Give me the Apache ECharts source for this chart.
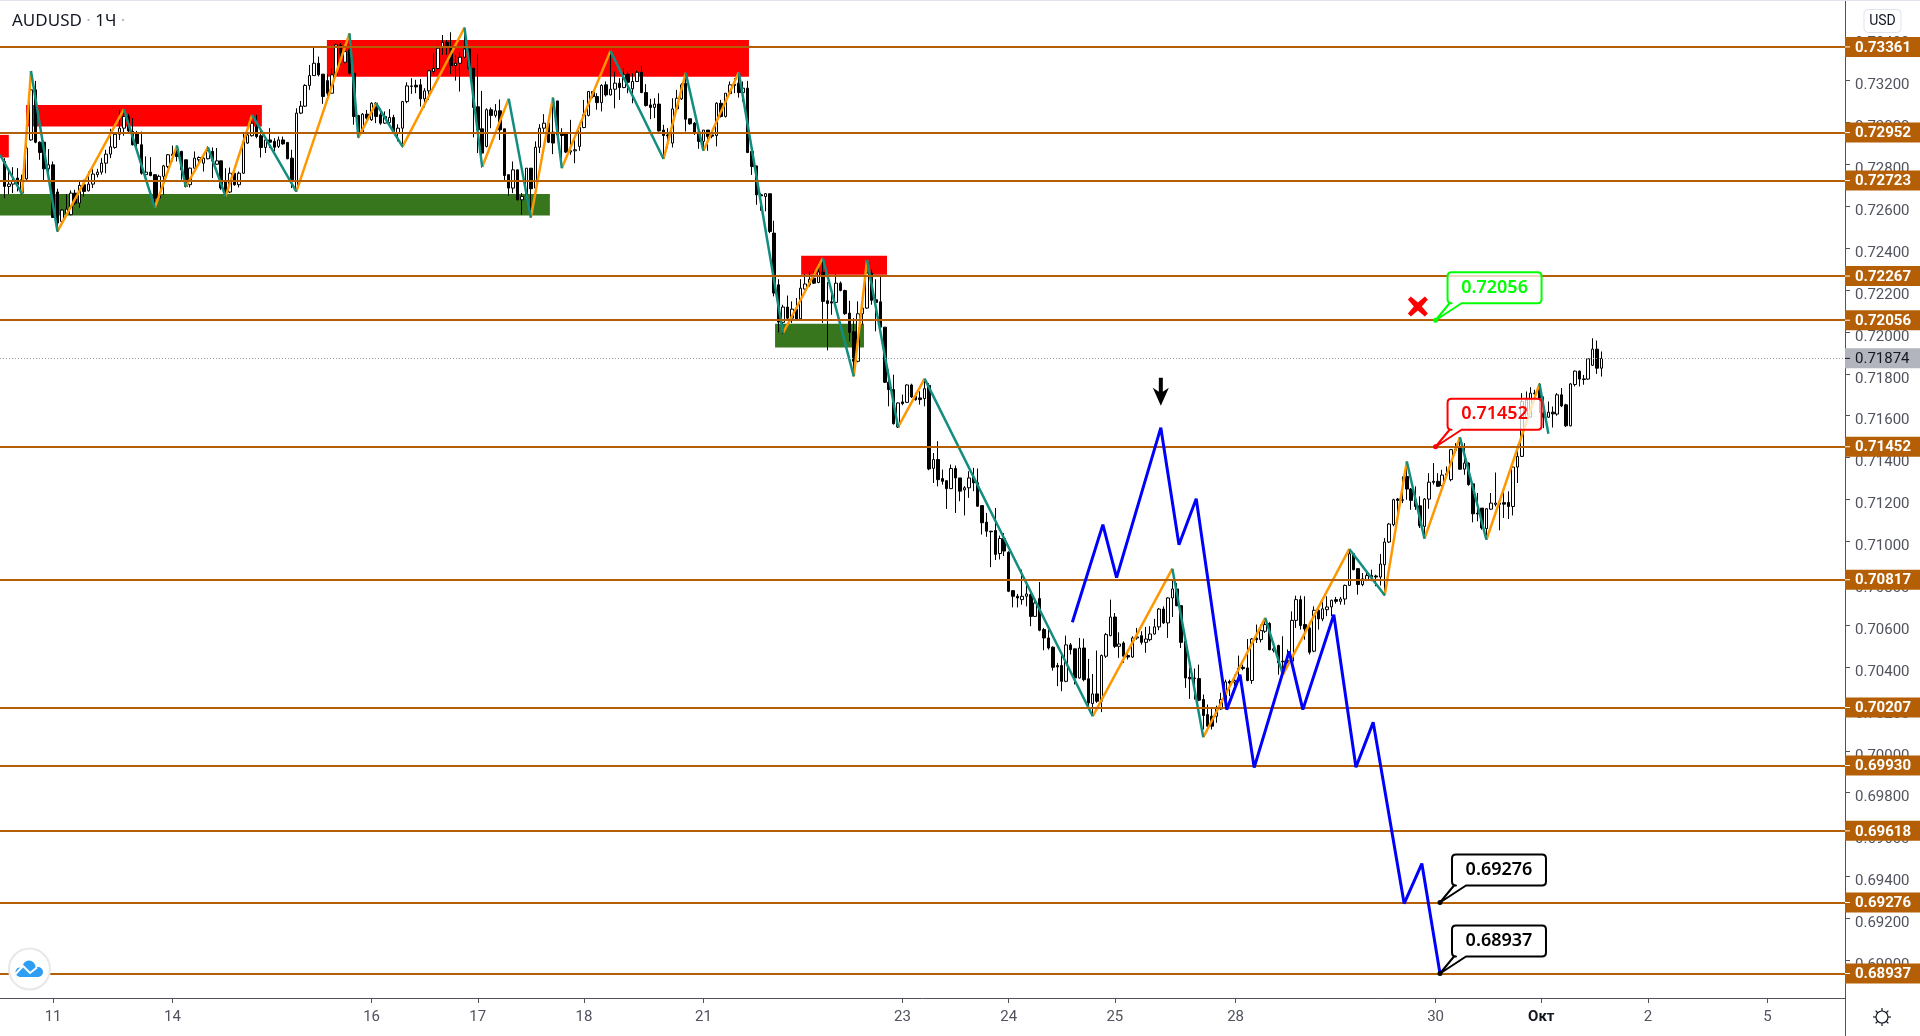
<!DOCTYPE html>
<html>
<head>
<meta charset="utf-8">
<title>AUDUSD 1H</title>
<script src="https://cdn.jsdelivr.net/npm/echarts@6/dist/echarts.min.js"></script>
<style>
  html, body { margin: 0; padding: 0; background: #fff; }
  #chart { width: 1920px; height: 1036px; }
</style>
</head>
<body>
<div id="chart"></div>
<script>
// hourly bars, each row is open, close, low, high
const barsSep10 = [
[.72814,.72695,.72639,.72830],[.72695,.72706,.72658,.72782],[.72706,.72719,.72663,.72787],[.72735,.72703,.72671,.72782],
[.72663,.72727,.72655,.72751],[.72731,.72878,.72726,.72925],[.72917,.73156,.72913,.73246],[.73156,.72906,.72901,.73199],
[.72906,.72857,.72822,.72910],[.72906,.72779,.72719,.72914],[.72779,.72798,.72719,.72873],[.72798,.72547,.72544,.72814],
[.72668,.72520,.72477,.72684],[.72528,.72582,.72512,.72587],[.72560,.72587,.72557,.72658],[.72560,.72663,.72557,.72676],
[.72663,.72615,.72607,.72679],[.72615,.72700,.72592,.72722],[.72703,.72671,.72647,.72727],[.72674,.72706,.72671,.72766],
[.72706,.72754,.72687,.72782],[.72751,.72763,.72738,.72779],[.72763,.72806,.72751,.72830],[.72806,.72849,.72758,.72870],
[.72849,.72884,.72830,.72970],[.72881,.72944,.72875,.72954],[.72944,.72973,.72917,.73060],[.72973,.73029,.72937,.73064],
[.73029,.72960,.72949,.73040],[.72957,.72894,.72890,.73021],[.72950,.72900,.72878,.72960],[.72894,.72758,.72751,.72957],
[.72751,.72763,.72735,.72838],[.72763,.72747,.72743,.72835],[.72751,.72639,.72592,.72751],[.72639,.72743,.72631,.72751],
[.72743,.72793,.72655,.72798],[.72790,.72846,.72782,.72849],[.72843,.72849,.72814,.72890],[.72862,.72838,.72814,.72890],
[.72862,.72774,.72727,.72865],[.72822,.72695,.72690,.72822],[.72703,.72782,.72690,.72785],[.72782,.72830,.72779,.72862],
[.72822,.72833,.72798,.72838],[.72806,.72830,.72766,.72846],[.72827,.72865,.72824,.72886],[.72862,.72817,.72735,.72881],
[.72801,.72817,.72798,.72878],[.72817,.72687,.72679,.72817],[.72722,.72663,.72644,.72782],[.72668,.72758,.72663,.72785],
[.72758,.72703,.72698,.72758],[.72703,.72758,.72690,.72766],[.72758,.72910,.72755,.72954],[.72902,.72941,.72898,.72989],
[.72937,.72997,.72933,.73037],[.72981,.72933,.72925,.73037],[.72937,.72881,.72833,.72973],[.72881,.72917,.72854,.72933],
[.72917,.72906,.72878,.72973],[.72910,.72882,.72862,.72925],[.72886,.72917,.72878,.72933],[.72917,.72898,.72894,.72933],
[.72905,.72827,.72825,.72906],[.72830,.72727,.72687,.72870],[.72687,.73045,.72668,.73068],[.73045,.73078,.73040,.73103],
[.73078,.73177,.73075,.73183],[.73177,.73224,.73156,.73275],[.73224,.73283,.73223,.73358],[.73283,.73228,.73220,.73315],
[.73231,.73124,.73089,.73231],[.73200,.73140,.73120,.73230],[.73140,.73228,.73140,.73259],[.73228,.73371,.73220,.73379],
[.73371,.73331,.73275,.73379],[.73288,.73339,.73283,.73347],[.73347,.73235,.73228,.73426],[.73235,.73029,.72989,.73235],
[.73033,.72949,.72925,.73037],[.72949,.73040,.72946,.73045],[.73040,.73021,.73005,.73060],[.73013,.73092,.73008,.73097],
[.73092,.73029,.72997,.73097]
]
const barsSep16 = [
[.73037,.72997,.72989,.73068],[.72997,.73029,.72994,.73053],[.73000,.73024,.72992,.73064],[.73024,.72957,.72954,.73037],
[.72952,.72973,.72910,.72992],[.72973,.73100,.72881,.73103],[.73100,.73175,.73092,.73192],[.73172,.73175,.73137,.73212],
[.73178,.73170,.73140,.73204],[.73180,.73113,.73076,.73208],[.73113,.73151,.73072,.73164],[.73151,.73247,.73108,.73251],
[.73243,.73258,.73232,.73331],[.73258,.73355,.73251,.73367],[.73358,.73383,.73323,.73418],[.73383,.73363,.73323,.73394],
[.73363,.73272,.73232,.73431],[.73272,.73283,.73200,.73323],[.73283,.73312,.73148,.73334],[.73312,.73351,.73307,.73453],
[.73351,.73259,.73251,.73355],[.73259,.73072,.72929,.73259],[.73075,.72965,.72854,.73328],[.72970,.72854,.72785,.73151],
[.72886,.73061,.72881,.73068],[.73061,.73034,.72973,.73072],[.73034,.73056,.73024,.73088],[.73056,.72965,.72917,.73110],
[.72970,.72747,.72719,.72970],[.72751,.72687,.72650,.72751],[.72687,.72774,.72663,.72814],[.72774,.72631,.72628,.72774],
[.72631,.72647,.72560,.72663],[.72652,.72782,.72647,.72782],[.72782,.72684,.72547,.72782],[.72687,.72882,.72684,.72910],
[.72882,.72973,.72854,.72992],[.72973,.72997,.72954,.73040],[.72997,.72906,.72902,.72997],[.72954,.72902,.72849,.73119],
[.73103,.72941,.72933,.73103],[.72946,.72938,.72782,.72973],[.72946,.72859,.72854,.72946],[.72859,.72865,.72846,.73013],
[.72865,.72870,.72806,.72925],[.72886,.72976,.72865,.72981],[.72976,.73037,.72973,.73108],[.73034,.73148,.73029,.73151],
[.73148,.73124,.73116,.73148],[.73124,.73095,.73061,.73140],[.73095,.73177,.73053,.73183],[.73180,.73132,.73124,.73196],
[.73132,.73159,.73129,.73342],[.73159,.73188,.73068,.73243],[.73188,.73167,.73108,.73212],[.73167,.73228,.73164,.73259],
[.73231,.73192,.73140,.73243],[.73161,.73196,.73092,.73235],[.73196,.73240,.73193,.73247],[.73240,.73143,.73140,.73270],
[.73143,.73081,.73076,.73183],[.73084,.73072,.73016,.73113],[.73072,.73088,.73021,.73116],[.73088,.72960,.72957,.73140],
[.72964,.72938,.72827,.72989],[.72941,.72936,.72878,.72973],[.72902,.73065,.72881,.73116],[.73065,.73116,.73059,.73156],
[.73113,.73180,.73108,.73188],[.73188,.73016,.72957,.73235],[.73018,.72994,.72989,.73018],[.72997,.72949,.72941,.73002],
[.72954,.72910,.72875,.72954],[.72910,.72964,.72865,.72964],[.72964,.72933,.72865,.72964],[.72941,.72935,.72925,.72960],
[.72938,.73092,.72886,.73097],[.73092,.73029,.73024,.73108],[.73029,.73140,.73024,.73140],[.73138,.73180,.73132,.73196],
[.73183,.73177,.73140,.73212],[.73188,.73143,.73119,.73235],[.73143,.73164,.73100,.73196],[.73164,.72857,.72854,.73199],
[.72862,.72790,.72750,.72862],[.72793,.72655,.72607,.72793],[.72655,.72650,.72579,.72663],[.72647,.72660,.72576,.72663],
[.72660,.72480,.72472,.72660],[.72472,.72186,.72170,.72531]
]
const barsSep22 = [
[.72225,.72047,.71998,.72252],[.72046,.72119,.71990,.72130],[.72119,.72066,.72058,.72174],[.72066,.72109,.72043,.72146],
[.72109,.72058,.72055,.72162],[.72063,.72209,.72058,.72252],[.72205,.72229,.72202,.72276],[.72225,.72252,.72217,.72289],
[.72257,.72233,.72229,.72289],[.72236,.72287,.72233,.72305],[.72286,.72146,.72043,.72353],[.72149,.72136,.71912,.72238],
[.72144,.72138,.72082,.72194],[.72141,.72233,.72138,.72276],[.72233,.72198,.72194,.72241],[.72198,.72087,.72082,.72202],
[.72090,.71998,.71955,.72149],[.72001,.71860,.71788,.72066],[.71860,.72087,.71855,.72146],[.72087,.72114,.72035,.72138],
[.72114,.72281,.72111,.72345],[.72281,.72151,.72130,.72297],[.72154,.72141,.72003,.72252],[.72144,.72023,.72019,.72268],
[.72023,.71760,.71756,.72023],[.71760,.71725,.71645,.71820],[.71725,.71562,.71558,.71796],[.71546,.71661,.71542,.71664],
[.71666,.71658,.71650,.71701],[.71664,.71747,.71661,.71750],[.71747,.71690,.71685,.71753],[.71693,.71677,.71672,.71709],
[.71685,.71677,.71653,.71717],[.71682,.71729,.71645,.71772],[.71745,.71346,.71340,.71756],[.71349,.71391,.71279,.71422],
[.71391,.71295,.71263,.71478],[.71300,.71287,.71271,.71343],[.71290,.71252,.71155,.71290],[.71252,.71348,.71250,.71367],
[.71348,.71303,.71136,.71362],[.71303,.71240,.71192,.71303],[.71246,.71256,.71124,.71264],[.71256,.71303,.71208,.71335],
[.71306,.71280,.71240,.71351],[.71280,.71168,.71165,.71348],[.71171,.71089,.71033,.71171],[.71092,.71049,.71022,.71136],
[.71049,.71046,.70877,.71049],[.71052,.70938,.70911,.71160],[.70942,.71014,.70914,.71028],[.71014,.70954,.70930,.71040]
]
const barsSep24 = [
[.70948,.70762,.70758,.70953],[.70765,.70738,.70685,.70767],[.70738,.70730,.70685,.70749],[.70722,.70738,.70698,.70865],
[.70738,.70749,.70690,.70809],[.70746,.70642,.70595,.70770],[.70642,.70706,.70639,.70722],[.70727,.70576,.70571,.70806],
[.70579,.70539,.70480,.70587],[.70539,.70491,.70483,.70579],[.70495,.70399,.70383,.70499],[.70407,.70401,.70309,.70420],
[.70407,.70332,.70285,.70460],[.70332,.70506,.70328,.70550],[.70506,.70483,.70460,.70515],[.70487,.70348,.70317,.70488],
[.70348,.70491,.70345,.70539],[.70491,.70340,.70332,.70536],[.70344,.70229,.70213,.70439],[.70226,.70272,.70169,.70367],
[.70272,.70237,.70229,.70479],[.70237,.70455,.70185,.70460],[.70452,.70555,.70444,.70563],[.70550,.70639,.70547,.70722],
[.70639,.70499,.70491,.70658],[.70499,.70510,.70444,.70566],[.70515,.70452,.70420,.70523],[.70455,.70448,.70436,.70483],
[.70448,.70539,.70444,.70547],[.70539,.70544,.70531,.70587],[.70550,.70518,.70507,.70571],[.70518,.70534,.70468,.70592],
[.70531,.70558,.70523,.70595],[.70558,.70592,.70555,.70630],[.70592,.70677,.70576,.70682],[.70677,.70611,.70606,.70690],
[.70611,.70730,.70539,.70733],[.70730,.70773,.70639,.70817],[.70773,.70693,.70690,.70801],[.70693,.70518,.70491,.70693],
[.70523,.70348,.70301,.70523],[.70351,.70344,.70248,.70396],[.70345,.70348,.70245,.70393],[.70345,.70242,.70237,.70412],
[.70245,.70169,.70102,.70269],[.70173,.70118,.70094,.70221],[.70165,.70118,.70102,.70205],[.70165,.70202,.70134,.70216],
[.70200,.70245,.70197,.70277],[.70242,.70329,.70237,.70340],[.70331,.70324,.70261,.70340],[.70328,.70336,.70293,.70364],
[.70395,.70390,.70332,.70455],[.70399,.70393,.70385,.70412],[.70396,.70336,.70332,.70534],[.70336,.70534,.70320,.70539],
[.70538,.70531,.70515,.70603],[.70531,.70574,.70518,.70603],[.70571,.70603,.70563,.70635],[.70608,.70483,.70480,.70614],
[.70480,.70487,.70470,.70510],[.70503,.70420,.70364,.70507],[.70428,.70425,.70364,.70547],[.70431,.70425,.70417,.70484],
[.70428,.70623,.70425,.70666],[.70623,.70722,.70587,.70741]
]
const barsSep29 = [
[.70722,.70598,.70579,.70741],[.70603,.70582,.70531,.70738],[.70587,.70471,.70460,.70603],[.70476,.70671,.70471,.70690],
[.70671,.70630,.70579,.70690],[.70630,.70678,.70619,.70714],[.70674,.70687,.70643,.70738],[.70687,.70719,.70643,.70722],
[.70722,.70714,.70703,.70735],[.70714,.70725,.70698,.70735],[.70725,.70790,.70698,.70794],[.70790,.70941,.70789,.70960],
[.70941,.70865,.70862,.70945],[.70870,.70794,.70746,.70873],[.70794,.70821,.70786,.70849],[.70817,.70837,.70810,.70853],
[.70837,.70830,.70810,.70865],[.70835,.70830,.70786,.70841],[.70830,.70892,.70789,.70940],[.70889,.70997,.70741,.71016],
[.70997,.71083,.70992,.71088],[.71080,.71199,.71072,.71204],[.71202,.71196,.71096,.71207],[.71196,.71199,.71183,.71310],
[.71310,.71250,.71199,.71382],[.71250,.71196,.71151,.71255],[.71199,.71167,.71151,.71263],[.71170,.71075,.71064,.71215],
[.71072,.71202,.71016,.71207],[.71202,.71283,.71156,.71326],[.71287,.71282,.71271,.71374],[.71287,.71263,.71260,.71326],
[.71266,.71317,.71263,.71342],[.71317,.71323,.71310,.71358],[.71295,.71438,.71287,.71441],[.71434,.71441,.71422,.71469],
[.71450,.71345,.71342,.71498],[.71345,.71374,.71318,.71469],[.71374,.71271,.71266,.71377],[.71275,.71132,.71091,.71275],
[.71135,.71131,.71096,.71231],[.71159,.71064,.71056,.71159],[.71061,.71156,.71011,.71159],[.71154,.71183,.71151,.71231],
[.71177,.71183,.71167,.71329],[.71183,.71177,.71053,.71188],[.71185,.71178,.71112,.71250],[.71186,.71167,.71107,.71239],
[.71167,.71355,.71124,.71358],[.71355,.71406,.71279,.71461],[.71406,.71668,.71403,.71708],[.71592,.71676,.71589,.71716],
[.71593,.71708,.71589,.71736],[.71705,.71708,.71700,.71724],[.71748,.71684,.71613,.71756],[.71613,.71593,.71541,.71692],
[.71593,.71617,.71589,.71668],[.71617,.71609,.71544,.71644],[.71608,.71700,.71600,.71708],[.71700,.71647,.71641,.71732],
[.71652,.71552,.71546,.71657],[.71552,.71752,.71549,.71756],[.71749,.71813,.71740,.71816],[.71813,.71775,.71740,.71816],
[.71776,.71773,.71748,.71795],[.71775,.71872,.71772,.71875],[.71841,.71918,.71838,.71970],[.71918,.71827,.71800,.71959],
[.71827,.71874,.71787,.71907]
]

// zigzag turning points, bar number and price
const zigzagBars = [-1,4,6,12,27,34,39,41,46,50,56,66,78,80,84,90,104,108,114,119,124,126,137,149,154,158,166,176,185,192,195,202,208,246,264,271,285,289,304,312,317,321,329,335,347,349]
const zigzagPrices = [.72846,.72658,.73246,.72480,.73064,.72594,.72890,.72694,.72882,.72647,.73036,.72670,.73426,.72928,.73092,.72885,.73453,.72788,.73114,.72546,.73119,.72782,.73342,.72826,.73237,.72865,.73240,.71995,.72353,.71788,.72344,.71546,.71777,.70165,.70870,.70065,.70635,.70364,.70964,.70743,.71382,.71013,.71498,.71008,.71753,.71514]

// blue forecast path
const forecastBars = [241.4,248.3,251.4,261.4,265.5,269.4,276.3,279.3,282.5,290.4,293.5,300.5,305.5,309.4,316.4,320.4,324.5]
const forecastPrices = [.70614,.71080,.70827,.71543,.70984,.71204,.70197,.70364,.69920,.70475,.70197,.70650,.69922,.70136,.69271,.69462,.68937]

// support and resistance levels, last price
const levels = [0.73361,0.72952,0.72723,0.72267,0.72056,0.71452,0.70817,0.70207,0.69930,0.69618,0.69276,0.68937]
const lastPrice = 0.71874

// zones: first bar, last bar, top, bottom
const redZones = [[-1,1,.72941,.72833],[4.9,58.2,.73084,.72981],[72.9,168.3,.73394,.73219],[180.1,199.5,.72364,.72273]]
const greenZones = [[-1,123.3,.72659,.72556],[174.2,194.3,.72039,.71926]]

// callouts: bar, price, text colour
const calloutBars = [323.5,323.5,324.5,324.5]
const calloutPrices = [0.72056,0.71452,0.69276,0.68937]
const calloutColors = ['#00ff00','#ff0000','#000000','#000000']

const crossMark = [319.5,.72122]
const arrowMark = [261.4,.71715]

// axes
const X_MAX = 416.05
const priceTicks = [.690,.692,.694,.696,.698,.700,.702,.704,.706,.708,.710,.712,.714,.716,.718,.720,.722,.724,.726,.728,.730,.732,.734]
const timeTickBars = [11,38,83,107,131,158,203,227,251,278.3,323.5,347.4,371.5,398.5]
const timeTickLabels = ['11','14','16','17','18','21','23','24','25','28','30','Окт','2','5']

const FONT = '"Noto Sans", sans-serif'
const AXIS_FONT = 'Roboto, sans-serif'
const LEVEL_COLOR = '#b45f06'

let allBars = [].concat(barsSep10, barsSep16, barsSep22, barsSep24, barsSep29)
let candleData = allBars.map((b, i) => [i, b[0], b[1], b[2], b[3]])

// rising legs are orange, falling legs teal
let upLegs = []
let downLegs = []
for (let i = 1; i < zigzagBars.length; i++) {
  let leg = [[zigzagBars[i - 1], zigzagPrices[i - 1]], [zigzagBars[i], zigzagPrices[i]]]
  let target = zigzagPrices[i] > zigzagPrices[i - 1] ? upLegs : downLegs
  if (target.length) target.push([null, null])
  target.push(leg[0], leg[1])
}

function zoneArea(list, color) {
  return {
    silent: true,
    itemStyle: { color: color },
    data: list.map(z => [{ coord: [z[0], z[2]] }, { coord: [z[1], z[3]] }])
  }
}

function renderCallout(params, api) {
  let pt = api.coord([api.value(0), api.value(1)])
  let color = calloutColors[params.dataIndex]
  let L = 12, R = 106, T = -48, B = -17, r = 4
  let d = 'M0 0L14 ' + B + 'L' + (L + r) + ' ' + B + 'Q' + L + ' ' + B + ' ' + L + ' ' + (B - r) +
    'L' + L + ' ' + (T + r) + 'Q' + L + ' ' + T + ' ' + (L + r) + ' ' + T +
    'L' + (R - r) + ' ' + T + 'Q' + R + ' ' + T + ' ' + R + ' ' + (T + r) +
    'L' + R + ' ' + (B - r) + 'Q' + R + ' ' + B + ' ' + (R - r) + ' ' + B + 'L26 ' + B + 'Z'
  return {
    type: 'group', x: pt[0], y: pt[1],
    children: [
      { type: 'path', shape: { pathData: d, x: 0, y: T, width: R, height: -T, layout: 'cover' },
        style: { fill: 'rgba(255,255,255,0.75)', stroke: color, lineWidth: 2, lineJoin: 'round' } },
      { type: 'circle', shape: { cx: 0, cy: 0, r: 2.5 }, style: { fill: color } },
      { type: 'text', style: { x: (L + R) / 2, y: (T + B) / 2, text: calloutPrices[params.dataIndex].toFixed(5),
        fill: color, font: '600 18px ' + FONT, textAlign: 'center', textVerticalAlign: 'middle' } }
    ]
  }
}

// price tags sitting on the axis, the last price one is grey
function renderTag(params, api) {
  let price = api.value(0)
  let pt = api.coord([X_MAX, price])
  let isLast = price === lastPrice
  let textColor = isLast ? '#131722' : '#ffffff'
  return {
    type: 'group', x: pt[0], y: pt[1],
    children: [
      { type: 'rect', shape: { x: 0, y: -10, width: 75, height: 20 }, style: { fill: isLast ? '#b2b5be' : LEVEL_COLOR } },
      { type: 'rect', shape: { x: 0, y: -0.5, width: 5, height: 1 }, style: { fill: textColor } },
      { type: 'text', style: { x: 10, y: 1, text: price.toFixed(5), fill: textColor,
        font: (isLast ? '' : 'bold ') + '15px ' + AXIS_FONT, textAlign: 'left', textVerticalAlign: 'middle' } }
    ]
  }
}

// gear rays around the settings icon
let gearRays = []
for (let a = 0; a < 8; a++) {
  let c = Math.cos(a * Math.PI / 4), s = Math.sin(a * Math.PI / 4)
  gearRays.push({ type: 'line', z: 100,
    shape: { x1: 1882 + 6 * c, y1: 1017 + 6 * s, x2: 1882 + 9 * c, y2: 1017 + 9 * s },
    style: { stroke: '#131722', lineWidth: 1.2 } })
}

let chart = echarts.init(document.getElementById('chart'), null, { renderer: 'canvas' })

let option = {
  animation: false,
  backgroundColor: '#ffffff',
  title: {
    left: 7, top: 8,
    text: '{s|AUDUSD}{d| · }{s|1Ч}{d| ·}',
    textStyle: { fontWeight: 'normal', rich: {
      s: { fontFamily: FONT, fontSize: 17, fontWeight: 'normal', color: '#131722' },
      d: { fontFamily: FONT, fontSize: 17, fontWeight: 'normal', color: '#b2b5be' }
    } }
  },
  grid: { left: 0, top: 0, right: 75, bottom: 38 },
  xAxis: {
    type: 'value', min: -0.995, max: X_MAX,
    splitLine: { show: false },
    axisLine: { onZero: false, lineStyle: { color: '#50535e', width: 1 } },
    axisTick: { length: 5, customValues: timeTickBars, lineStyle: { color: '#50535e' } },
    axisLabel: {
      customValues: timeTickBars, margin: 12, fontFamily: AXIS_FONT, fontSize: 15, color: '#50535e',
      formatter: function (v) {
        let t = timeTickLabels[timeTickBars.indexOf(v)]
        return t === 'Окт' ? '{m|' + t + '}' : t
      },
      rich: { m: { fontFamily: AXIS_FONT, fontSize: 15, fontWeight: 'bold', color: '#131722' } }
    }
  },
  yAxis: {
    type: 'value', position: 'right', min: 0.68820, max: 0.73585, scale: true,
    splitLine: { show: false },
    axisLine: { show: true, onZero: false, lineStyle: { color: '#50535e', width: 1 } },
    axisTick: { show: true, length: 5, customValues: priceTicks, lineStyle: { color: '#50535e' } },
    axisLabel: {
      customValues: priceTicks, margin: 10, fontFamily: AXIS_FONT, fontSize: 15, color: '#50535e',
      verticalAlign: 'top', lineHeight: 10,
      formatter: v => v.toFixed(5)
    }
  },
  series: [
    {
      name: 'zones', type: 'line', data: [], z: 1, silent: true,
      markArea: zoneArea(redZones, '#ff0000')
    },
    {
      name: 'greenZones', type: 'line', data: [], z: 1, silent: true,
      markArea: zoneArea(greenZones, '#38761d')
    },
    {
      name: 'AUDUSD', type: 'candlestick', z: 2, barWidth: 3,
      encode: { x: 0, y: [1, 2, 3, 4] },
      data: candleData,
      itemStyle: { color: '#ffffff', color0: '#000000', borderColor: '#000000', borderColor0: '#000000', borderWidth: 1 }
    },
    {
      name: 'zigzagUp', type: 'line', z: 3, data: upLegs, showSymbol: false, symbol: 'none',
      connectNulls: false, lineStyle: { color: '#ff9800', width: 2.5 }
    },
    {
      name: 'zigzagDown', type: 'line', z: 3, data: downLegs, showSymbol: false, symbol: 'none',
      connectNulls: false, lineStyle: { color: '#138d80', width: 2.5 }
    },
    {
      name: 'levels', type: 'line', data: [], z: 4, silent: true,
      markLine: {
        silent: true, symbol: ['none', 'none'], animation: false, precision: 5,
        label: { show: false },
        data: levels.map(p => ({ yAxis: p, lineStyle: { color: LEVEL_COLOR, width: 2, type: 'solid', opacity: 1 } })).concat([{
          yAxis: lastPrice,
          lineStyle: { color: '#9598a1', width: 1, type: [1, 2], opacity: 1 }
        }])
      }
    },
    {
      name: 'forecast', type: 'line', z: 5, symbol: 'none', showSymbol: false,
      data: forecastBars.map((b, i) => [b, forecastPrices[i]]),
      lineStyle: { color: '#0000ff', width: 3 }
    },
    {
      name: 'callouts', type: 'custom', z: 6, clip: false,
      data: calloutBars.map((b, i) => [b, calloutPrices[i]]),
      encode: { x: 0, y: 1 },
      renderItem: renderCallout
    },
    {
      name: 'tags', type: 'custom', z: 6, clip: false, silent: true,
      data: levels.concat([lastPrice]).map(p => [p]),
      encode: { y: 0 },
      renderItem: renderTag
    },
    {
      name: 'cross', type: 'scatter', z: 6, data: [crossMark], symbolSize: [20, 20], itemStyle: { color: '#ff0000', opacity: 1 },
      symbol: 'path://M3 0L10 6 17 0 20 3 14 10 20 17 17 20 10 14 3 20 0 17 6 10 0 3Z'
    },
    {
      name: 'arrow', type: 'scatter', z: 6, data: [arrowMark], symbolSize: [16, 28], itemStyle: { color: '#000000', opacity: 1 },
      symbol: 'path://M6 0L10 0 10 14 16 10 8 28 0 10 6 14Z'
    }
  ],
  graphic: [
    { type: 'rect', z: 100, shape: { x: 0, y: 0, width: 1920, height: 1 }, style: { fill: '#e0e3eb' } },
    { type: 'line', z: 100, shape: { x1: 1845.5, y1: 998, x2: 1845.5, y2: 1036 }, style: { stroke: '#50535e', lineWidth: 1 } },
    // USD button
    { type: 'rect', z: 100, shape: { x: 1864, y: 9.5, width: 37, height: 23, r: 4 }, style: { fill: '#fff', stroke: '#e0e3eb', lineWidth: 1 } },
    { type: 'text', z: 101, style: { x: 1882.5, y: 21, text: 'USD', fill: '#131722', font: '14px ' + AXIS_FONT, textAlign: 'center', textVerticalAlign: 'middle' } },
    // settings gear
    { type: 'circle', z: 100, shape: { cx: 1882, cy: 1017, r: 6 }, style: { fill: 'none', stroke: '#131722', lineWidth: 1.2 } }
  ].concat(gearRays, [
    // logo
    { type: 'circle', z: 100, shape: { cx: 29.5, cy: 969, r: 20.5 }, style: { fill: '#fff', stroke: '#e8e8e8', lineWidth: 2 } },
    { type: 'circle', z: 101, shape: { cx: 29, cy: 967, r: 6.5 }, style: { fill: '#2e9ef4' } },
    { type: 'circle', z: 101, shape: { cx: 20, cy: 972, r: 4.5 }, style: { fill: '#2e9ef4' } },
    { type: 'circle', z: 101, shape: { cx: 38, cy: 972, r: 5 }, style: { fill: '#2e9ef4' } },
    { type: 'rect', z: 101, shape: { x: 19, y: 970, width: 20, height: 7 }, style: { fill: '#2e9ef4' } },
    { type: 'polyline', z: 102, shape: { points: [[15.5, 974], [23, 966], [30, 973], [37, 967.5]] }, style: { fill: 'none', stroke: '#fff', lineWidth: 2 } }
  ])
}

chart.setOption(option)
</script>
</body>
</html>
